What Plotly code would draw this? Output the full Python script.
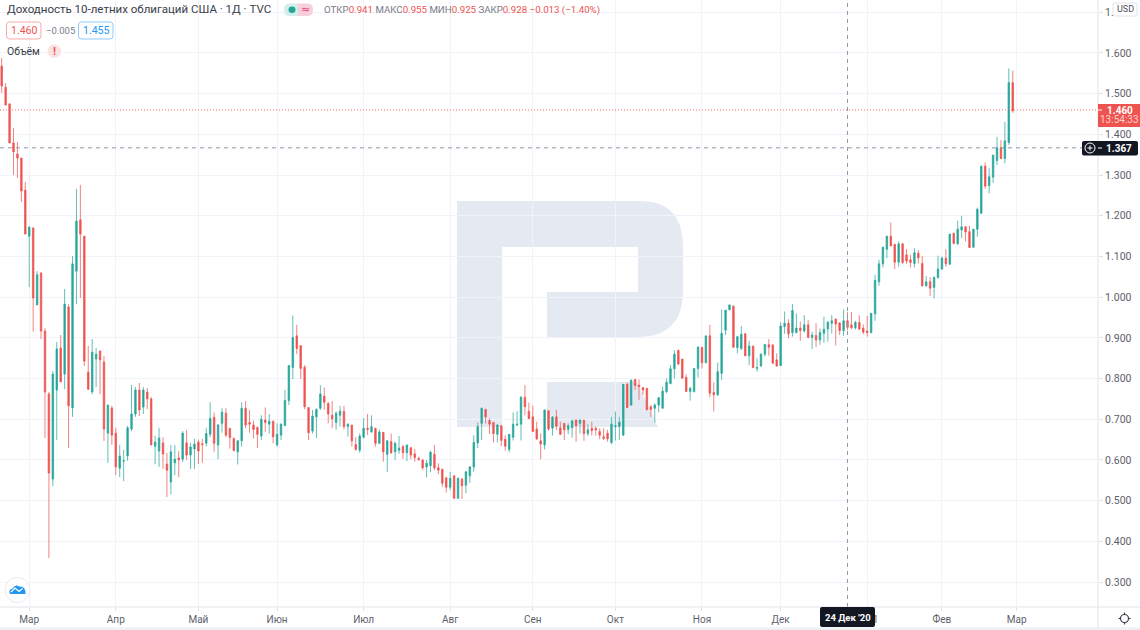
import plotly.graph_objects as go

OPEN = [
1.568,1.516,1.475,1.379,1.352,1.342,1.263,1.150,1.170,0.981,
1.059,0.917,0.762,0.553,0.772,0.875,0.811,0.976,0.728,1.064,
1.190,1.150,0.816,0.767,0.848,0.868,0.841,0.666,0.728,0.666,
0.580,0.597,0.610,0.676,0.713,0.772,0.730,0.767,0.750,0.634,
0.622,0.642,0.590,0.546,0.593,0.605,0.602,0.642,0.612,0.627,
0.644,0.640,0.641,0.663,0.705,0.637,0.690,0.715,0.678,0.653,
0.620,0.647,0.727,0.692,0.686,0.680,0.659,0.698,0.688,0.695,
0.637,0.661,0.685,0.746,0.827,0.905,0.881,0.828,0.729,0.671,
0.706,0.727,0.757,0.739,0.710,0.692,0.710,0.719,0.682,0.686,
0.638,0.624,0.656,0.678,0.669,0.678,0.641,0.668,0.614,0.645,
0.620,0.624,0.633,0.618,0.630,0.615,0.604,0.600,0.583,0.586,
0.614,0.581,0.577,0.556,0.533,0.561,0.506,0.553,0.538,0.561,
0.583,0.642,0.690,0.724,0.697,0.692,0.663,0.684,0.651,0.626,
0.656,0.686,0.688,0.754,0.720,0.706,0.676,0.647,0.637,0.721,
0.678,0.706,0.679,0.690,0.675,0.679,0.698,0.690,0.698,0.665,
0.678,0.678,0.670,0.657,0.666,0.643,0.682,0.682,0.661,0.786,
0.735,0.798,0.784,0.778,0.776,0.731,0.727,0.735,0.727,0.768,
0.788,0.824,0.869,0.848,0.803,0.768,0.768,0.825,0.877,0.839,
0.905,0.766,0.760,0.813,0.919,0.969,0.978,0.876,0.874,0.910,
0.856,0.880,0.825,0.831,0.860,0.883,0.883,0.846,0.832,0.928,
0.936,0.913,0.913,0.924,0.917,0.932,0.901,0.906,0.895,0.911,
0.922,0.936,0.946,0.937,0.918,0.942,0.932,0.925,0.938,0.924,
0.917,0.913,0.959,1.038,1.082,1.118,1.150,1.130,1.086,1.131,
1.104,1.092,1.083,1.108,1.083,1.028,1.038,1.024,1.048,1.069,
1.096,1.081,1.157,1.131,1.165,1.173,1.161,1.123,1.167,1.206,
1.322,1.274,1.295,1.336,1.367,1.341,1.380,1.527]

HIGH = [
1.588,1.526,1.475,1.416,1.381,1.342,1.283,1.175,1.172,1.064,
1.062,0.924,0.767,0.819,0.890,0.907,1.020,0.983,1.101,1.266,
1.276,1.150,0.880,0.897,0.875,0.868,0.855,0.735,0.733,0.679,
0.637,0.625,0.684,0.784,0.779,0.789,0.779,0.777,0.755,0.659,
0.679,0.656,0.617,0.637,0.637,0.622,0.671,0.674,0.642,0.652,
0.650,0.652,0.678,0.742,0.717,0.688,0.727,0.727,0.678,0.655,
0.649,0.742,0.745,0.723,0.697,0.682,0.710,0.729,0.713,0.697,
0.690,0.690,0.772,0.833,0.955,0.932,0.881,0.833,0.729,0.723,
0.727,0.784,0.778,0.742,0.745,0.719,0.733,0.733,0.690,0.686,
0.656,0.665,0.703,0.713,0.710,0.679,0.675,0.668,0.649,0.665,
0.645,0.659,0.637,0.637,0.632,0.627,0.608,0.602,0.600,0.623,
0.637,0.592,0.579,0.559,0.571,0.563,0.557,0.556,0.573,0.585,
0.661,0.692,0.729,0.726,0.702,0.692,0.688,0.686,0.661,0.663,
0.717,0.720,0.757,0.784,0.741,0.733,0.694,0.665,0.723,0.721,
0.708,0.723,0.694,0.690,0.690,0.700,0.700,0.700,0.698,0.688,
0.694,0.682,0.678,0.678,0.674,0.706,0.719,0.706,0.786,0.790,
0.798,0.798,0.798,0.778,0.776,0.735,0.739,0.755,0.780,0.800,
0.833,0.870,0.872,0.848,0.810,0.780,0.825,0.880,0.877,0.905,
0.932,0.791,0.839,0.970,0.968,0.982,0.980,0.905,0.929,0.912,
0.893,0.880,0.850,0.862,0.884,0.897,0.883,0.862,0.938,0.965,
0.946,0.983,0.960,0.940,0.956,0.944,0.915,0.936,0.923,0.952,
0.942,0.956,0.948,0.937,0.970,0.964,0.964,0.942,0.956,0.933,
0.954,0.962,1.055,1.092,1.123,1.150,1.184,1.130,1.137,1.133,
1.118,1.104,1.120,1.116,1.102,1.052,1.049,1.049,1.102,1.100,
1.118,1.155,1.158,1.188,1.200,1.174,1.175,1.167,1.220,1.323,
1.331,1.317,1.350,1.394,1.386,1.431,1.562,1.557]

LOW = [
1.502,1.472,1.379,1.300,1.293,1.234,1.155,1.025,0.915,0.981,
0.897,0.654,0.359,0.536,0.649,0.792,0.774,0.629,0.706,0.983,
0.998,0.831,0.772,0.762,0.779,0.762,0.647,0.593,0.637,0.563,
0.558,0.548,0.598,0.671,0.706,0.708,0.713,0.725,0.637,0.590,
0.583,0.578,0.509,0.516,0.563,0.558,0.595,0.600,0.578,0.578,
0.590,0.593,0.633,0.656,0.620,0.602,0.667,0.656,0.628,0.623,
0.589,0.633,0.678,0.667,0.653,0.629,0.649,0.669,0.665,0.641,
0.633,0.649,0.683,0.735,0.799,0.860,0.799,0.725,0.649,0.665,
0.654,0.723,0.724,0.690,0.678,0.674,0.682,0.675,0.657,0.633,
0.623,0.618,0.653,0.661,0.667,0.633,0.639,0.596,0.570,0.615,
0.600,0.615,0.602,0.597,0.602,0.596,0.598,0.575,0.557,0.570,
0.575,0.565,0.534,0.520,0.526,0.504,0.504,0.504,0.518,0.544,
0.571,0.629,0.649,0.690,0.664,0.643,0.643,0.634,0.623,0.619,
0.648,0.683,0.648,0.710,0.700,0.670,0.649,0.602,0.626,0.672,
0.660,0.674,0.661,0.649,0.664,0.655,0.645,0.665,0.647,0.659,
0.660,0.660,0.651,0.649,0.645,0.638,0.648,0.649,0.660,0.727,
0.733,0.772,0.748,0.760,0.721,0.706,0.692,0.717,0.727,0.764,
0.786,0.800,0.833,0.801,0.768,0.746,0.766,0.803,0.825,0.838,
0.754,0.719,0.757,0.797,0.907,0.968,0.875,0.862,0.870,0.856,
0.833,0.826,0.817,0.829,0.854,0.856,0.836,0.829,0.831,0.910,
0.899,0.903,0.911,0.893,0.913,0.899,0.873,0.877,0.883,0.888,
0.891,0.911,0.881,0.907,0.905,0.919,0.921,0.921,0.919,0.909,
0.903,0.911,0.942,1.028,1.073,1.096,1.126,1.069,1.075,1.082,
1.082,1.073,1.073,1.083,1.026,1.026,1.003,0.997,1.046,1.067,
1.075,1.080,1.130,1.129,1.145,1.137,1.121,1.121,1.149,1.205,
1.266,1.255,1.281,1.325,1.339,1.329,1.374,1.453]

CLOSE = [
1.519,1.472,1.379,1.357,1.342,1.261,1.155,1.172,0.998,1.055,
0.917,0.767,0.568,0.811,0.873,0.792,0.983,0.733,1.082,1.187,
1.155,0.843,0.774,0.865,0.860,0.846,0.676,0.735,0.661,0.583,
0.610,0.598,0.679,0.713,0.772,0.723,0.772,0.750,0.637,0.644,
0.654,0.615,0.575,0.620,0.602,0.600,0.666,0.612,0.632,0.639,
0.622,0.638,0.665,0.702,0.641,0.686,0.717,0.661,0.655,0.623,
0.647,0.727,0.686,0.688,0.675,0.663,0.700,0.692,0.695,0.657,
0.663,0.688,0.746,0.832,0.901,0.874,0.825,0.731,0.667,0.708,
0.724,0.762,0.742,0.713,0.701,0.715,0.720,0.682,0.688,0.647,
0.626,0.659,0.678,0.675,0.682,0.641,0.669,0.620,0.647,0.618,
0.641,0.629,0.618,0.637,0.612,0.606,0.601,0.581,0.592,0.619,
0.581,0.575,0.543,0.533,0.555,0.506,0.555,0.537,0.571,0.583,
0.643,0.682,0.727,0.706,0.688,0.665,0.686,0.648,0.634,0.663,
0.688,0.688,0.754,0.731,0.702,0.670,0.652,0.639,0.723,0.676,
0.705,0.683,0.663,0.674,0.684,0.696,0.684,0.698,0.665,0.674,
0.672,0.674,0.661,0.653,0.652,0.688,0.684,0.693,0.786,0.729,
0.796,0.783,0.780,0.772,0.724,0.724,0.735,0.753,0.769,0.791,
0.824,0.860,0.836,0.801,0.768,0.776,0.825,0.877,0.839,0.905,
0.764,0.760,0.817,0.911,0.968,0.981,0.877,0.903,0.909,0.856,
0.880,0.827,0.827,0.860,0.884,0.877,0.838,0.831,0.929,0.936,
0.910,0.967,0.924,0.918,0.932,0.901,0.907,0.895,0.913,0.921,
0.938,0.942,0.934,0.918,0.942,0.926,0.925,0.938,0.922,0.914,
0.913,0.960,1.041,1.082,1.123,1.150,1.126,1.086,1.131,1.085,
1.089,1.085,1.109,1.097,1.028,1.038,1.022,1.049,1.069,1.096,
1.082,1.155,1.132,1.167,1.173,1.160,1.122,1.167,1.216,1.322,
1.273,1.296,1.349,1.367,1.341,1.384,1.527,1.458]

MONTH_BARS = [7, 29, 50, 70, 92, 114, 135, 156, 178, 198, 220, 239, 258]
MONTH_LABELS = ["Мар", "Апр", "Май", "Июн", "Июл", "Авг", "Сен", "Окт", "Ноя", "Дек", "2021", "Фев", "Мар"]
PRICE_TICKS = [0.3, 0.4, 0.5, 0.6, 0.7, 0.8, 0.9, 1.0, 1.1, 1.2, 1.3, 1.4, 1.5, 1.6, 1.7]
LAST_PRICE = 1.460
CROSS_PRICE = 1.367
CROSS_BAR = 215

assert len(OPEN) == len(HIGH) == len(LOW) == len(CLOSE) == 258

W, H = 1140, 630
PW, PH = 1098, 607
UP, DOWN = "#26a69a", "#ef5350"
UP_LINE, DOWN_LINE = "rgba(38,166,154,0.72)", "rgba(239,83,80,0.72)"
FONT = "Roboto"
TXT = "#4a4e59"
GRID = "#f1f3fa"
BORDER = "#e0e3eb"


def px(x):
    return x / PW


def py(y):
    return 1 - y / PH


def P(x, y):
    return f"{px(x):.5f},{py(y):.5f}"


shapes = []


def paper_shape(kind, x0, y0, x1, y1, **kw):
    shapes.append(dict(type=kind, xref="paper", yref="paper", x0=px(x0), x1=px(x1), y0=py(y0), y1=py(y1), **kw))


def paper_path(d, **kw):
    shapes.append(dict(type="path", xref="paper", yref="paper", path=d, **kw))


def rounded(x0, y0, x1, y1, rl, rr, **kw):
    d = (f"M{P(x0 + rl, y0)} L{P(x1 - rr, y0)} Q{P(x1, y0)} {P(x1, y0 + rr)} L{P(x1, y1 - rr)} "
         f"Q{P(x1, y1)} {P(x1 - rr, y1)} L{P(x0 + rl, y1)} Q{P(x0, y1)} {P(x0, y1 - rl)} "
         f"L{P(x0, y0 + rl)} Q{P(x0, y0)} {P(x0 + rl, y0)} Z")
    paper_path(d, layer="above", **kw)


WM = "#e5eaf2"
paper_path(
    f"M{P(457,201)} L{P(640,201)} Q{P(683,201)} {P(683,247)} L{P(683,291)} Q{P(683,337)} {P(637,337)} "
    f"L{P(547,337)} L{P(547,292)} L{P(638,292)} L{P(638,247)} L{P(502,247)} L{P(502,427)} L{P(457,427)} Z",
    fillcolor=WM, line=dict(width=0), layer="below")
paper_path(f"M{P(547,382)} L{P(637,382)} L{P(658,427)} L{P(547,427)} Z", fillcolor=WM, line=dict(width=0), layer="below")

# price line + crosshair, tied to the axes
shapes.append(dict(type="line", xref="paper", yref="y", x0=0, x1=1, y0=LAST_PRICE, y1=LAST_PRICE,
                   line=dict(color="rgba(239,83,80,0.8)", width=1, dash="1px,2px"), layer="above"))
shapes.append(dict(type="line", xref="paper", yref="y", x0=0, x1=px(1082), y0=CROSS_PRICE, y1=CROSS_PRICE,
                   line=dict(color="#8a97a6", width=1, dash="4px,4px"), layer="above"))
shapes.append(dict(type="line", xref="x", yref="paper", x0=CROSS_BAR, x1=CROSS_BAR, y0=0, y1=1,
                   line=dict(color="#8a97a6", width=1, dash="4px,4px"), layer="above"))

# frame lines
paper_shape("line", 0, 607, W, 607, line=dict(color=BORDER, width=1), layer="above")
paper_shape("line", 1098, 0, 1098, 630, line=dict(color=BORDER, width=1), layer="above")
paper_shape("rect", 0, 627.5, W, 630, fillcolor="#eef0f4", line=dict(width=0), layer="above")

# header pills
rounded(284, 3.5, 299, 16, 6, 0.1, fillcolor="#d4eeeb", line=dict(width=0))
rounded(298, 3.5, 313, 16, 0.1, 6, fillcolor="#f8cfdc", line=dict(width=0))
paper_shape("circle", 288.5, 6.5, 295.5, 13, fillcolor=UP, line=dict(width=0), layer="above")
paper_shape("circle", 47.5, 44.5, 61, 58, fillcolor="#fbe3e3", line=dict(width=0), layer="above")

# value boxes
rounded(6.5, 22, 41, 39, 3, 3, fillcolor="white", line=dict(color="#f9a8a6", width=1))
rounded(78.5, 22, 113, 39, 3, 3, fillcolor="white", line=dict(color="#90caf9", width=1))

# right labels
paper_shape("rect", 1098, 104, 1140, 127, fillcolor=DOWN, line=dict(width=0), layer="above")
rounded(1082, 141, 1138, 155.5, 2, 2, fillcolor="#131722", line=dict(width=0))
paper_shape("circle", 1085, 143, 1095, 153, line=dict(color="white", width=1), layer="above")
paper_shape("line", 1087.5, 148, 1092.5, 148, line=dict(color="white", width=1), layer="above")
paper_shape("line", 1090, 145.5, 1090, 150.5, line=dict(color="white", width=1), layer="above")
paper_shape("line", 1098, 148, 1102, 148, line=dict(color="white", width=1), layer="above")
paper_shape("line", 1098, 110, 1102, 110, line=dict(color="white", width=1), layer="above")
rounded(820, 607, 875, 627, 2, 2, fillcolor="#131722", line=dict(width=0))
rounded(1113, 3, 1137, 16, 2, 2, fillcolor="white", line=dict(color=BORDER, width=1))

# cloud logo
paper_shape("circle", 5, 577.5, 30, 602.5, fillcolor="white", line=dict(color="#e9ebf0", width=1), layer="above")
paper_path(f"M{P(10,594)} Q{P(8,589.5)} {P(12.5,588.5)} Q{P(15.5,583.5)} {P(19,586.5)} Q{P(26,586)} {P(25.5,594)} Z",
           fillcolor="#2196f3", line=dict(width=0), layer="above")
paper_path(f"M{P(11,592)} L{P(15,588)} L{P(19,591.5)} L{P(22.5,588.5)}", line=dict(color="white", width=1.2), layer="above")

# gear
paper_shape("circle", 1120.5, 614.5, 1128.5, 622.5, fillcolor="white", line=dict(color="#3a3e4a", width=1.2), layer="above")
for a, b, c, d in [(1124.5, 612.5, 1124.5, 614.5), (1124.5, 622.5, 1124.5, 624.5),
                   (1118.5, 618.5, 1120.5, 618.5), (1128.5, 618.5, 1130.5, 618.5)]:
    paper_shape("line", a, b, c, d, line=dict(color="#3a3e4a", width=1.2), layer="above")

annotations = []


def label(x, y, text, size=11, color=TXT, anchor="left", family=FONT):
    annotations.append(dict(xref="paper", yref="paper", x=px(x), y=py(y), text=text, showarrow=False,
                            xanchor=anchor, yanchor="middle", align=anchor, borderpad=0,
                            font=dict(family=family, size=size, color=color)))


def red(s):
    return f"<span style='color:{DOWN}'>{s}</span>"


label(6, 9.5, "Доходность 10-летних облигаций США · 1Д · TVC", size=11.5, color="#3a3e49")
label(305.5, 9.5, "≈", size=11, color="#e0457b", anchor="center", family="DejaVu Sans")
label(323, 10, f"ОТКР{red('0.941')} МАКС{red('0.955')} МИН{red('0.925')} ЗАКР{red('0.928')} {red('−0.013 (−1.40%)')}",
      size=9.7, color="#787b86")
label(23.7, 30.5, "1.460", size=10.5, color=DOWN, anchor="center")
label(60, 30.5, "−0.005", size=9.5, color="#787b86", anchor="center")
label(95.7, 30.5, "1.455", size=10.5, color="#2196f3", anchor="center")
label(6, 52, "Объём", size=10.5, color="#3a3e49")
label(54.3, 51.2, "<b>!</b>", size=11, color=DOWN, anchor="center")
label(1125, 9.5, "USD", size=9, color="#4a4e59", anchor="center")
label(1120, 110, "<b>1.460</b>", size=10, color="white", anchor="center")
label(1119, 120, "13:54:33", size=10, color="#fbd0cf", anchor="center")
label(1119, 148, "<b>1.367</b>", size=10, color="white", anchor="center")
label(847.5, 617.5, "<b>24 Дек '20</b>", size=9.5, color="white", anchor="center")

fig = go.Figure(go.Candlestick(
    x=list(range(len(OPEN))), open=OPEN, high=HIGH, low=LOW, close=CLOSE,
    increasing=dict(line=dict(color=UP_LINE, width=1), fillcolor=UP),
    decreasing=dict(line=dict(color=DOWN_LINE, width=1), fillcolor=DOWN),
    whiskerwidth=0, hoverinfo="skip", showlegend=False,
))

fig.update_layout(
    width=W, height=H,
    margin=dict(l=0, r=W - PW, t=0, b=H - PH, pad=0),
    paper_bgcolor="white", plot_bgcolor="white",
    boxgap=0.45,
    font=dict(family=FONT, size=11, color=TXT),
    shapes=shapes, annotations=annotations,
    xaxis=dict(range=[-0.432, 278.67], rangeslider=dict(visible=False), tickmode="array",
               tickvals=MONTH_BARS, ticktext=MONTH_LABELS, showgrid=True, gridcolor=GRID, gridwidth=1,
               ticks="outside", ticklen=3, tickcolor=BORDER, showline=False, zeroline=False,
               tickfont=dict(size=10, color="#5d606b")),
    yaxis=dict(range=[0.2388, 1.7302], side="right", tickmode="array", tickvals=PRICE_TICKS,
               tickformat=".3f", showgrid=True, gridcolor=GRID, gridwidth=1, ticks="outside", ticklen=4,
               tickcolor=BORDER, showline=False, zeroline=False, tickfont=dict(size=10.5, color="#5d606b")),
)

fig.write_html("out.html", post_script="document.body.style.margin='0';", config=dict(displayModeBar=False))
